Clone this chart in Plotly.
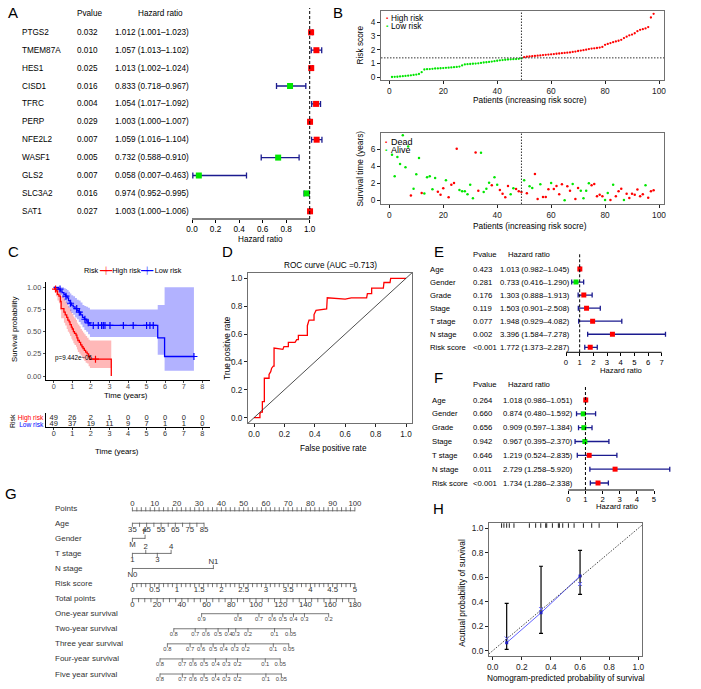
import plotly.graph_objects as go

# ------------------------------------------------------------------ DATA
# Panel A: univariate Cox of genes
genes = ["PTGS2", "TMEM87A", "HES1", "CISD1", "TFRC", "PERP", "NFE2L2", "WASF1", "GLS2", "SLC3A2", "SAT1"]
gene_p = ["0.032", "0.010", "0.025", "0.016", "0.004", "0.029", "0.007", "0.005", "0.007", "0.016", "0.027"]
gene_hr = [1.012, 1.057, 1.013, 0.833, 1.054, 1.003, 1.059, 0.732, 0.058, 0.974, 1.003]
gene_lo = [1.001, 1.013, 1.002, 0.718, 1.017, 1.000, 1.016, 0.588, 0.007, 0.952, 1.000]
gene_hi = [1.023, 1.102, 1.024, 0.967, 1.092, 1.007, 1.104, 0.910, 0.463, 0.995, 1.006]
a_ticks = [0.0, 0.2, 0.4, 0.6, 0.8, 1.0]

# Panel B: risk score distribution and survival status
risk_score = [0.00, 0.01, 0.02, 0.04, 0.06, 0.08, 0.10, 0.12, 0.15, 0.18,
              0.22, 0.35, 0.55, 0.57, 0.58, 0.60, 0.62, 0.63, 0.64, 0.65,
              0.67, 0.68, 0.70, 0.72, 0.74, 0.76, 0.85, 0.92, 0.94, 0.95,
              0.97, 0.98, 1.00, 1.03, 1.06, 1.08, 1.10, 1.13, 1.16, 1.19,
              1.22, 1.24, 1.26, 1.28, 1.29, 1.30, 1.31, 1.33, 1.36,
              1.45, 1.48, 1.50, 1.52, 1.54, 1.56, 1.58, 1.60, 1.62, 1.64,
              1.66, 1.68, 1.70, 1.72, 1.74, 1.76, 1.78, 1.80, 1.83, 1.86,
              1.90, 1.93, 1.96, 2.00, 2.04, 2.08, 2.10, 2.12, 2.15, 2.20,
              2.35, 2.42, 2.48, 2.55, 2.60, 2.65, 2.72, 2.85, 2.95, 3.05,
              3.10, 3.20, 3.35, 3.45, 3.50, 3.55, 3.65, 4.35, 4.62]
risk_cutoff = 1.40
n_low = 49
surv_time = [5.34, 2.80, 5.06, 4.25, 7.60, 3.86, 6.30, 0.55, 1.36, 3.05,
             4.95, 0.86, 0.80, 2.70, 2.80, 1.30, 2.60, 1.00, 0.66, 1.40,
             2.34, 0.35, 1.83, 2.03, 6.04, 1.20, 1.05, 1.05, 0.70, 1.83,
             0.23, 5.60, 1.13, 5.57, 0.97, 1.36, 2.06, 1.75, 2.69, 1.83,
             1.20, 0.78, 0.35, 1.68, 0.70, 1.40, 1.32, 1.05, 0.97, 2.34,
             0.82, 1.64, 1.44, 3.08, 0.16, 1.87, 0.39, 0.39, 1.29, 2.03,
             1.32, 1.68, 0.70, 1.87, 0.00, 1.64, 1.13, 1.91, 0.16, 1.44,
             1.13, 0.23, 1.13, 1.99, 1.75, 1.91, 0.47, 0.66, 0.47, 0.04,
             0.86, 0.04, 1.83, 0.47, 1.05, 1.36, 0.04, 0.78, 0.27, 0.78,
             0.66, 1.25, 0.47, 0.70, 1.75, 0.31, 1.05, 1.17]
surv_dead = [0, 0, 0, 0, 0, 0, 0, 1, 0, 0,
             0, 1, 0, 0, 0, 0, 0, 1, 1, 1,
             0, 1, 1, 1, 1, 0, 0, 0, 0, 0,
             0, 1, 1, 0, 0, 0, 0, 1, 0, 0,
             1, 1, 1, 1, 0, 0, 1, 1, 1, 0,
             1, 0, 0, 1, 1, 0, 1, 1, 1, 0,
             1, 1, 1, 1, 0, 1, 1, 0, 1, 1,
             0, 0, 0, 0, 1, 1, 1, 1, 1, 0,
             0, 1, 0, 1, 1, 1, 0, 1, 1, 1,
             1, 1, 1, 1, 0, 1, 1, 1]

# Panel C: Kaplan-Meier
km_hi_t = [0.05, 0.12, 0.20, 0.28, 0.36, 0.40, 0.55, 0.62, 0.70, 0.76, 0.83, 0.88, 0.95, 1.00, 1.06,
           1.12, 1.20, 1.25, 1.30, 1.38, 1.45, 1.52, 1.58, 1.65, 1.72, 1.80, 1.88, 1.95, 3.10]
km_hi_s = [0.98, 0.96, 0.92, 0.90, 0.84, 0.76, 0.72, 0.69, 0.66, 0.63, 0.61, 0.58, 0.55, 0.53, 0.50,
           0.48, 0.46, 0.43, 0.40, 0.38, 0.35, 0.33, 0.31, 0.29, 0.27, 0.25, 0.22, 0.19, 0.00]
km_hi_l = [0.94, 0.90, 0.85, 0.82, 0.74, 0.65, 0.60, 0.57, 0.53, 0.50, 0.48, 0.45, 0.42, 0.40, 0.37,
           0.35, 0.33, 0.30, 0.27, 0.25, 0.23, 0.21, 0.19, 0.17, 0.15, 0.14, 0.11, 0.09, 0.09]
km_hi_u = [1.00, 1.00, 1.00, 0.99, 0.96, 0.90, 0.87, 0.84, 0.82, 0.79, 0.77, 0.75, 0.72, 0.70, 0.67,
           0.65, 0.63, 0.60, 0.58, 0.56, 0.53, 0.51, 0.49, 0.47, 0.45, 0.43, 0.41, 0.40, 0.40]
km_lo_t = [0.25, 0.35, 0.45, 0.55, 0.65, 0.72, 0.80, 0.88, 0.95, 1.05, 1.15, 1.25, 1.35, 1.45, 1.55,
           1.65, 1.75, 1.85, 1.95, 5.60, 5.97]
km_lo_s = [0.98, 0.96, 0.94, 0.92, 0.90, 0.88, 0.85, 0.82, 0.80, 0.78, 0.76, 0.74, 0.72, 0.69, 0.66,
           0.64, 0.62, 0.60, 0.57, 0.43, 0.22]
km_lo_l = [0.94, 0.91, 0.88, 0.85, 0.82, 0.80, 0.77, 0.73, 0.71, 0.69, 0.66, 0.64, 0.61, 0.58, 0.55,
           0.52, 0.50, 0.47, 0.44, 0.24, 0.06]
km_lo_u = [1.00, 1.00, 1.00, 0.99, 0.98, 0.97, 0.95, 0.93, 0.91, 0.90, 0.88, 0.86, 0.85, 0.83, 0.80,
           0.79, 0.78, 0.77, 0.75, 0.80, 1.00]
km_lo_end = 7.55
cens_hi = [0.10, 2.25]
cens_lo = [0.34, 0.66, 0.91, 1.24, 1.38, 1.68, 1.86, 2.13, 2.40, 2.58, 2.67, 2.76, 3.03, 3.75,
           4.28, 5.00, 5.18, 5.36, 7.55]
table_times = [0, 1, 2, 3, 4, 5, 6, 7, 8]
at_risk_hi = [49, 26, 2, 1, 0, 0, 0, 0, 0]
at_risk_lo = [49, 37, 19, 11, 9, 7, 1, 1, 0]
km_p = "p=9.442e−06"

# Panel D: ROC
roc_fpr = [0.000, 0.013, 0.039, 0.039, 0.047, 0.055, 0.055, 0.068, 0.068, 0.099, 0.099, 0.110, 0.116,
           0.127, 0.132, 0.132, 0.190, 0.197, 0.226, 0.226, 0.270, 0.281, 0.292, 0.292, 0.351, 0.351,
           0.362, 0.395, 0.395, 0.408, 0.470, 0.478, 0.482, 0.600, 0.640, 0.741, 0.746, 0.774, 0.774,
           0.851, 0.855, 0.895, 0.899, 1.000]
roc_tpr = [0.000, 0.000, 0.000, 0.030, 0.040, 0.040, 0.115, 0.115, 0.283, 0.283, 0.310, 0.330, 0.355,
           0.370, 0.370, 0.500, 0.490, 0.510, 0.510, 0.540, 0.540, 0.560, 0.560, 0.590, 0.590, 0.660,
           0.700, 0.700, 0.740, 0.770, 0.780, 0.780, 0.860, 0.850, 0.860, 0.860, 0.890, 0.890, 0.930,
           0.930, 0.970, 0.970, 1.000, 1.000]
roc_auc = 0.713
unit_ticks = [0.0, 0.2, 0.4, 0.6, 0.8, 1.0]

# Panels E/F: uni- and multivariate Cox of clinical factors
clin = ["Age", "Gender", "Grade", "Stage", "T stage", "N stage", "Risk score"]
e_p = ["0.423", "0.281", "0.176", "0.119", "0.077", "0.002", "<0.001"]
e_hr = [1.013, 0.733, 1.303, 1.503, 1.948, 3.396, 1.772]
e_lo = [0.982, 0.416, 0.888, 0.901, 0.929, 1.584, 1.373]
e_hi = [1.045, 1.290, 1.913, 2.508, 4.082, 7.278, 2.287]
e_ticks = [0, 1, 2, 3, 4, 5, 6, 7]
f_p = ["0.264", "0.660", "0.656", "0.942", "0.646", "0.011", "<0.001"]
f_hr = [1.018, 0.874, 0.909, 0.967, 1.219, 2.729, 1.734]
f_lo = [0.986, 0.480, 0.597, 0.395, 0.524, 1.258, 1.286]
f_hi = [1.051, 1.592, 1.384, 2.370, 2.835, 5.920, 2.338]
f_ticks = [0, 1, 2, 3, 4, 5]

# Panel G: nomogram (positions on the 0-100 Points scale)
nomo_rows = ["Points", "Age", "Gender", "T stage", "N stage", "Risk score", "Total points",
             "One-year survival", "Two-year survival", "Three year survival",
             "Four-year survival", "Five year survival"]
points_lab = [0, 10, 20, 30, 40, 50, 60, 70, 80, 90, 100]
age_lab = [35, 45, 55, 65, 75, 85]
age_pts = [0.0, 6.4, 12.9, 19.3, 25.8, 32.2]
gender_lab = ["M", "F"]
gender_pts = [0.0, 5.7]
tstage_lab = ["1", "2", "3", "4"]
tstage_pts = [0.0, 6.0, 11.2, 17.4]
nstage_lab = ["N0", "N1"]
nstage_pts = [0.0, 36.4]
riskscore_lab = [0, 0.5, 1, 1.5, 2, 2.5, 3, 3.5, 4, 4.5, 5]
total_lab = [0, 20, 40, 60, 80, 100, 120, 140, 160, 180]
surv1_lab = [0.9, 0.8, 0.7, 0.6, 0.5, 0.4, 0.3, 0.2]
surv1_tot = [56.0, 85.4, 102.4, 113.1, 121.7, 130.3, 139.2, 158.8]
survN_lab = [0.8, 0.7, 0.6, 0.5, 0.4, 0.3, 0.2, 0.1, 0.05]
surv2_tot = [33.5, 50.8, 59.5, 69.3, 77.7, 83.6, 93.5, 115.0, 128.0]
surv3_tot = [28.3, 46.7, 55.6, 65.3, 73.9, 82.8, 91.6, 114.0, 126.5]
surv4_tot = [22.3, 40.3, 49.0, 58.0, 67.3, 76.0, 85.0, 107.5, 119.6]
surv5_tot = [22.3, 40.4, 49.0, 58.0, 67.3, 76.0, 85.0, 108.0, 120.5]

# Panel H: calibration
cal_pred = [0.096, 0.332, 0.600]
cal_obs = [0.065, 0.310, 0.610]
cal_lo = [0.011, 0.142, 0.460]
cal_hi = [0.387, 0.690, 0.820]
cal_corr = [0.100, 0.340, 0.545]
cal_rug = [0.061, 0.077, 0.096, 0.114, 0.146, 0.252, 0.295, 0.330, 0.364, 0.371, 0.410, 0.451,
           0.458, 0.481, 0.520, 0.559, 0.623, 0.680, 0.731, 0.857]

# ------------------------------------------------------------------ HELPERS
W, H = 701, 689
FONT = "Liberation Sans, Arial, Helvetica, sans-serif"
RED, GREEN, NAVY, BLUE = "#FF0000", "#00E600", "#1B1B8F", "#0000FF"
GRAY_BOX = "#707070"

fig = go.Figure()
ann, shp, lay = [], [], {}
_k = [0]


def sc(p0, v0, p1, v1):
    return lambda p: v0 + (p - p0) * (v1 - v0) / (p1 - p0)


def axes(xdom, ydom, fx, fy, xkw=None, ykw=None):
    _k[0] += 1
    s = "" if _k[0] == 1 else str(_k[0])
    base = dict(showgrid=False, zeroline=False, showline=False, ticks="", showticklabels=False,
                fixedrange=True, automargin=False)
    xa = dict(base, domain=[xdom[0] / W, xdom[1] / W], range=[fx(xdom[0]), fx(xdom[1])], anchor="y" + s)
    ya = dict(base, domain=[1 - ydom[1] / H, 1 - ydom[0] / H], range=[fy(ydom[1]), fy(ydom[0])],
              anchor="x" + s)
    xa.update(xkw or {})
    ya.update(ykw or {})
    lay["xaxis" + s] = xa
    lay["yaxis" + s] = ya
    return "x" + s, "y" + s


def txt(x, y, s, size, xanchor="left", color="black", angle=0, yref="paper", yanchor="middle"):
    ann.append(dict(xref="paper", x=x / W, yref=yref, y=(1 - y / H) if yref == "paper" else y,
                    text=s, showarrow=False, xanchor=xanchor, yanchor=yanchor, textangle=angle,
                    borderpad=0, borderwidth=0, font=dict(size=size, color=color, family=FONT)))


def tickaxis(vals, size, text=None, color="#222", ticklen=3, line=False, mirror=False, linecolor=GRAY_BOX,
             standoff=0):
    d = dict(tickmode="array", tickvals=vals, ticks="outside", ticklen=ticklen, tickwidth=1,
             tickcolor=color, showticklabels=True, tickfont=dict(size=size, family=FONT, color=color),
             ticklabelstandoff=standoff)
    if text is not None:
        d["ticktext"] = text
    if line:
        d.update(showline=True, mirror=mirror, linecolor=linecolor, linewidth=1)
    return d


def forest(names, pv, hr, lo, hi, ticks, ticktext, xmap, xdom, rowmap, ydom, dash_top,
           cols, hdr_y, hdr_cols, fs, msize, cap, title_xy):
    fx = sc(*xmap)
    n = len(names)
    fy = sc(rowmap[0], 0, rowmap[1], n - 1)
    xid, yid = axes(xdom, ydom, fx, fy, xkw=tickaxis(ticks, fs, ticktext, color="black", standoff=-1))
    rows = list(range(n))
    fig.add_trace(go.Scatter(
        x=hr, y=rows, xaxis=xid, yaxis=yid, mode="markers",
        marker=dict(symbol="square", size=msize, color=[RED if h > 1 else GREEN for h in hr],
                    line=dict(width=0)),
        error_x=dict(type="data", symmetric=False, array=[b - h for b, h in zip(hi, hr)],
                     arrayminus=[h - a for a, h in zip(lo, hr)], color=NAVY, thickness=1.3, width=cap)))
    ybot = 1 - ydom[1] / H
    shp.append(dict(type="line", xref=xid, yref="paper", x0=1, x1=1, y0=ybot, y1=1 - dash_top / H,
                    line=dict(color="black", width=1, dash="3px,2px")))
    shp.append(dict(type="line", xref=xid, yref="paper", x0=ticks[0], x1=ticks[-1], y0=ybot, y1=ybot,
                    line=dict(color="black", width=1)))
    for i in rows:
        txt(cols[0], i, names[i], fs, yref=yid)
        txt(cols[1], i, pv[i], fs, yref=yid)
        txt(cols[2], i, f"{hr[i]:.3f} ({lo[i]:.3f}–{hi[i]:.3f})", fs, yref=yid)
    txt(hdr_cols[0], hdr_y, "Pvalue", fs)
    txt(hdr_cols[1], hdr_y, "Hazard ratio", fs)
    txt(title_xy[0], title_xy[1], "Hazard ratio", fs, xanchor="center")


# ------------------------------------------------------------------ PANEL A
forest(genes, gene_p, gene_hr, gene_lo, gene_hi, a_ticks, [f"{t:.1f}" for t in a_ticks],
       (192, 0, 309.7, 1), (186, 326), (32.3, 211.3), (5, 219), 8,
       (22, 77, 115), 14, (77, 138), 8.2, 6, 3, (260, 240))

# ------------------------------------------------------------------ PANEL B (top)
FS_B = 8.3
fxB = sc(389.3, 0, 659, 100)
patients = list(range(1, len(risk_score) + 1))
xb1, yb1 = axes((381, 664), (11, 80), fxB, sc(77, 0, 22.3, 4),
                xkw=tickaxis([0, 20, 40, 60, 80, 100], FS_B, line=True, mirror=True),
                ykw=tickaxis([0, 1, 2, 3, 4], FS_B, line=True, mirror=True))
fig.add_trace(go.Scatter(x=patients[:n_low], y=risk_score[:n_low], xaxis=xb1, yaxis=yb1, mode="markers",
                         marker=dict(size=2.3, color=GREEN, line=dict(width=0))))
fig.add_trace(go.Scatter(x=patients[n_low:], y=risk_score[n_low:], xaxis=xb1, yaxis=yb1, mode="markers",
                         marker=dict(size=2.3, color=RED, line=dict(width=0))))
shp.append(dict(type="line", xref=xb1 + " domain", yref=yb1, x0=0, x1=1, y0=risk_cutoff, y1=risk_cutoff,
                line=dict(color="#333", width=1, dash="1.5px,1.5px")))
shp.append(dict(type="line", xref=xb1, yref=yb1 + " domain", x0=n_low, x1=n_low, y0=0, y1=1,
                line=dict(color="#333", width=1, dash="1.5px,1.5px")))
txt(387, 18.3, f'<span style="color:{RED}">▪</span>', 6, xanchor="center")
txt(391.5, 18.3, "High risk", FS_B)
txt(387, 25.7, f'<span style="color:{GREEN}">▪</span>', 6, xanchor="center")
txt(391.5, 25.7, "Low risk", FS_B)
txt(360, 45.5, "Risk score", FS_B, xanchor="center", angle=-90)
txt(530, 100, "Patients (increasing risk socre)", FS_B, xanchor="center")

# ------------------------------------------------------------------ PANEL B (bottom)
xb2, yb2 = axes((381, 664), (133, 204), fxB, sc(200.3, 0, 149, 6),
                xkw=tickaxis([0, 20, 40, 60, 80, 100], FS_B, line=True, mirror=True),
                ykw=tickaxis([0, 2, 4, 6], FS_B, line=True, mirror=True))
fig.add_trace(go.Scatter(x=patients, y=surv_time, xaxis=xb2, yaxis=yb2, mode="markers",
                         marker=dict(size=2.5, color=[RED if d else GREEN for d in surv_dead],
                                     line=dict(width=0))))
shp.append(dict(type="line", xref=xb2, yref=yb2 + " domain", x0=n_low, x1=n_low, y0=0, y1=1,
                line=dict(color="#333", width=1, dash="1.5px,1.5px")))
txt(385.5, 142.3, f'<span style="color:{RED}">▪</span>', 6, xanchor="center")
txt(391, 142.3, "Dead", 9)
txt(385.5, 149.7, f'<span style="color:{GREEN}">▪</span>', 6, xanchor="center")
txt(391, 149.7, "Alive", 9)
txt(360, 168.5, "Survival time (years)", FS_B, xanchor="center", angle=-90)
txt(530, 226, "Patients (increasing risk socre)", FS_B, xanchor="center")

# ------------------------------------------------------------------ PANEL C (KM)
fxC = sc(53.7, 0, 202.3, 8)
xc, yc = axes((45.7, 210), (282, 380.4), fxC, sc(376, 0, 287.3, 1),
              xkw=tickaxis(table_times, 7.3, color="#4D4D4D", ticklen=2, line=True, linecolor="black",
                           standoff=-3),
              ykw=tickaxis([0, 0.25, 0.5, 0.75, 1.0], 7.3, ["0.00", "0.25", "0.50", "0.75", "1.00"],
                           color="#4D4D4D", ticklen=2, line=True, linecolor="black"))


def s_at(t, times, surv):
    v = 1.0
    for ti, si in zip(times, surv):
        if ti <= t:
            v = si
    return v


# ribbons
rib_hi_x = [0] + km_hi_t
fig.add_trace(go.Scatter(x=rib_hi_x, y=[1] + km_hi_l, xaxis=xc, yaxis=yc, mode="lines",
                         line=dict(width=0, shape="hv")))
fig.add_trace(go.Scatter(x=rib_hi_x, y=[1] + km_hi_u, xaxis=xc, yaxis=yc, mode="lines",
                         line=dict(width=0, shape="hv"), fill="tonexty",
                         fillcolor="rgba(255,0,0,0.28)"))
rib_lo_x = [0] + km_lo_t + [km_lo_end]
fig.add_trace(go.Scatter(x=rib_lo_x, y=[1] + km_lo_l + [km_lo_l[-1]], xaxis=xc, yaxis=yc, mode="lines",
                         line=dict(width=0, shape="hv")))
fig.add_trace(go.Scatter(x=rib_lo_x, y=[1] + km_lo_u + [km_lo_u[-1]], xaxis=xc, yaxis=yc, mode="lines",
                         line=dict(width=0, shape="hv"), fill="tonexty",
                         fillcolor="rgba(0,0,255,0.3)"))
# curves
fig.add_trace(go.Scatter(x=[0] + km_hi_t, y=[1] + km_hi_s, xaxis=xc, yaxis=yc, mode="lines",
                         line=dict(color=RED, width=1.3, shape="hv")))
fig.add_trace(go.Scatter(x=[0] + km_lo_t + [km_lo_end], y=[1] + km_lo_s + [km_lo_s[-1]], xaxis=xc,
                         yaxis=yc, mode="lines", line=dict(color=BLUE, width=1.3, shape="hv")))
fig.add_trace(go.Scatter(x=cens_hi, y=[s_at(t, km_hi_t, km_hi_s) for t in cens_hi], xaxis=xc, yaxis=yc,
                         mode="markers", marker=dict(symbol="cross-thin", size=5,
                                                     line=dict(color=RED, width=1.2))))
fig.add_trace(go.Scatter(x=cens_lo, y=[s_at(t, km_lo_t, km_lo_s) for t in cens_lo], xaxis=xc, yaxis=yc,
                         mode="markers", marker=dict(symbol="cross-thin", size=5,
                                                     line=dict(color=BLUE, width=1.2))))
txt(55, 358.3, km_p, 6.3)
txt(14, 329, "Survival probability", 7.8, xanchor="center", angle=-90)
txt(126, 395.7, "Time (years)", 7.8, xanchor="center")
txt(84, 270, f'Risk <span style="color:{RED}">━┿━</span>High risk'
              f'<span style="color:{BLUE}">━┿━</span> Low risk', 7.3)

# risk table
xt, yt = axes((45.7, 210), (413, 427.3), fxC, sc(424.3, 0, 417.7, 1),
              xkw=tickaxis(table_times, 7.3, color="#333", ticklen=2, line=True, linecolor="black",
                           standoff=-3),
              ykw=dict(tickmode="array", tickvals=[0, 1],
                       ticktext=[f'<span style="color:{BLUE}">Low risk</span>',
                                 f'<span style="color:{RED}">High risk</span>'],
                       showticklabels=True, ticks="", tickfont=dict(size=6.6, family=FONT),
                       showline=True, linecolor="black", linewidth=1))
fig.add_trace(go.Scatter(x=table_times + table_times, y=[1] * len(table_times) + [0] * len(table_times),
                         xaxis=xt, yaxis=yt, mode="text",
                         text=[str(v) for v in at_risk_hi + at_risk_lo],
                         textfont=dict(size=7.5, family=FONT, color="#222")))
txt(12, 421, "Risk", 7, xanchor="center", angle=-90)
txt(117, 451.7, "Time (years)", 7.8, xanchor="center")

# ------------------------------------------------------------------ PANEL D (ROC)
FS_D = 8.2
xd, yd = axes((248, 412), (273, 423.3), sc(254, 0, 406, 1), sc(417.7, 0, 278.3, 1),
              xkw=tickaxis(unit_ticks, FS_D, [f"{t:.1f}" for t in unit_ticks], ticklen=3, line=True,
                           mirror=True),
              ykw=tickaxis(unit_ticks, FS_D, [f"{t:.1f}" for t in unit_ticks], ticklen=3, line=True,
                           mirror=True))
xr = lay["xaxis" + xd[1:]]["range"]
shp.append(dict(type="line", xref=xd, yref=yd, x0=xr[0], y0=xr[0], x1=xr[1], y1=xr[1],
                line=dict(color="#222", width=0.8)))
fig.add_trace(go.Scatter(x=roc_fpr, y=roc_tpr, xaxis=xd, yaxis=yd, mode="lines",
                         line=dict(color=RED, width=1.3)))
txt(330, 265, f"ROC curve (AUC ={roc_auc})", FS_D, xanchor="center")
txt(226.7, 348, "True positive rate", FS_D, xanchor="center", angle=-90)
txt(333, 449, "False positive rate", FS_D, xanchor="center")

# ------------------------------------------------------------------ PANELS E, F
forest(clin, e_p, e_hr, e_lo, e_hi, e_ticks, [str(t) for t in e_ticks],
       (566, 0, 661.7, 7), (540, 668), (269, 347.3), (248, 352.3), 253,
       (430, 473, 500), 254, (473, 508), 7.7, 5, 2.5, (620.5, 370.3))
forest(clin, f_p, f_hr, f_lo, f_hi, f_ticks, [str(t) for t in f_ticks],
       (568.3, 0, 654, 5), (540, 675), (400, 483), (384, 490), 385,
       (431.5, 473.3, 503.3), 384.3, (473.3, 508.3), 7.7, 5, 2.5, (616.7, 506.5))

# ------------------------------------------------------------------ PANEL G (nomogram)
xg, yg = axes((40, 375), (495, 687), sc(132.4, 0, 354.9, 100), sc(508.2, 0, 674, 11),
              xkw=dict(visible=False), ykw=dict(visible=False))
NCOL = "#555"


def nomo_scale(row, pts, labels, above, fs, minor=None, line_off=0.0):
    y0 = row + line_off
    fig.add_trace(go.Scatter(x=[min(pts), max(pts)], y=[y0, y0], xaxis=xg, yaxis=yg, mode="lines",
                             line=dict(color=NCOL, width=0.8)))
    tick_all = list(pts) + (minor or [])
    fig.add_trace(go.Scatter(
        x=tick_all, y=[y0 + (-0.1 if a else 0.1) for a in (list(above) + [above[0]] * len(minor or []))],
        xaxis=xg, yaxis=yg, mode="markers",
        marker=dict(symbol="line-ns", size=3, line=dict(width=0.8, color=NCOL))))
    fig.add_trace(go.Scatter(x=pts, y=[y0 + (-0.42 if a else 0.45) for a in above], xaxis=xg, yaxis=yg,
                             mode="text", text=[str(l) for l in labels],
                             textfont=dict(size=fs, family=FONT, color="#333")))


FS_N = 7.8
FS_S = 5.8
nomo_scale(0, points_lab, points_lab, [True] * len(points_lab), FS_N,
           minor=[p for p in range(points_lab[0], points_lab[-1] + 1, 2) if p % 10], line_off=0.17)
nomo_scale(1, age_pts, age_lab, [False] * len(age_lab), FS_N,
           minor=[(a + 5 - age_lab[0]) / (age_lab[-1] - age_lab[0]) * age_pts[-1] for a in age_lab[:-1]])
nomo_scale(2, gender_pts, gender_lab, [False, True], FS_N)
nomo_scale(3, tstage_pts, tstage_lab, [False, True, False, True], FS_N)
nomo_scale(4, nstage_pts, nstage_lab, [False, True], FS_N)
rs_pts = [v / riskscore_lab[-1] * 100 for v in riskscore_lab]
nomo_scale(5, rs_pts, riskscore_lab, [False] * len(rs_pts), FS_N,
           minor=[k / 10 / riskscore_lab[-1] * 100 for k in range(0, 51) if k % 5])
tot_scale = 100 / total_lab[-1]
nomo_scale(6, [v * tot_scale for v in total_lab], total_lab, [False] * len(total_lab), FS_N,
           minor=[v * tot_scale for v in range(0, 181, 5) if v % 20])
for r, tot, lab in [(7, surv1_tot, surv1_lab), (8, surv2_tot, survN_lab), (9, surv3_tot, survN_lab),
                    (10, surv4_tot, survN_lab), (11, surv5_tot, survN_lab)]:
    fig.add_trace(go.Scatter(x=[min(tot) * tot_scale, max(tot) * tot_scale], y=[r, r], xaxis=xg, yaxis=yg,
                             mode="lines", line=dict(color=NCOL, width=0.8)))
    fig.add_trace(go.Scatter(x=[t * tot_scale for t in tot], y=[r + 0.1] * len(tot), xaxis=xg, yaxis=yg,
                             mode="markers",
                             marker=dict(symbol="line-ns", size=3, line=dict(width=0.8, color=NCOL))))
    fig.add_trace(go.Scatter(x=[t * tot_scale for t in tot], y=[r + 0.36] * len(tot), xaxis=xg, yaxis=yg,
                             mode="text", text=[str(l) for l in lab],
                             textfont=dict(size=FS_S, family=FONT, color="#444")))
for i, name in enumerate(nomo_rows):
    txt(55, i, name, 8, yref=yg, color="#333")

# ------------------------------------------------------------------ PANEL H (calibration)
FS_H = 8.3
xh, yh = axes((489, 642.3), (523.3, 655.7), sc(492.7, 0, 638.3, 1), sc(650.7, 0, 528.3, 1),
              xkw=tickaxis(unit_ticks, FS_H, [f"{t:.1f}" for t in unit_ticks], ticklen=3, line=True,
                           mirror=True),
              ykw=tickaxis(unit_ticks, FS_H, [f"{t:.1f}" for t in unit_ticks], ticklen=3, line=True,
                           mirror=True))
xrh = lay["xaxis" + xh[1:]]["range"]
shp.append(dict(type="line", xref=xh, yref=yh, x0=xrh[0], y0=xrh[0], x1=xrh[1], y1=xrh[1],
                line=dict(color="#444", width=1, dash="1.5px,1.5px")))
fig.add_trace(go.Scatter(x=cal_pred, y=cal_obs, xaxis=xh, yaxis=yh, mode="markers",
                         marker=dict(size=1, color="black"),
                         error_y=dict(type="data", symmetric=False,
                                      array=[h - o for h, o in zip(cal_hi, cal_obs)],
                                      arrayminus=[o - l for l, o in zip(cal_lo, cal_obs)],
                                      color="black", thickness=1.2, width=2)))
fig.add_trace(go.Scatter(x=cal_pred, y=cal_obs, xaxis=xh, yaxis=yh, mode="lines+markers",
                         line=dict(color="#3A3AFF", width=0.8),
                         marker=dict(symbol="square", size=3, color="#2020C0")))
fig.add_trace(go.Scatter(x=cal_pred, y=cal_corr, xaxis=xh, yaxis=yh, mode="markers",
                         marker=dict(symbol="x-thin", size=4, line=dict(color="#6A6AFF", width=1))))
yrh = lay["yaxis" + yh[1:]]["range"]
fig.add_trace(go.Scatter(x=cal_rug, y=[yrh[1] - 0.014] * len(cal_rug), xaxis=xh, yaxis=yh, mode="markers",
                         marker=dict(symbol="line-ns", size=4, line=dict(color="#222", width=1))))
txt(566, 678.3, "Nomogram-predicted probability of survival", FS_H, xanchor="center")
txt(461.7, 593, "Acutual probability of survival", FS_H, xanchor="center", angle=-90)

# ------------------------------------------------------------------ PANEL LETTERS
for letter, x, y in [("A", 8, 12), ("B", 333, 12), ("C", 8, 251), ("D", 222, 252), ("E", 434, 252),
                     ("F", 434, 378), ("G", 5, 493), ("H", 433, 508)]:
    txt(x, y, letter, 15)

lay.update(template="none", width=W, height=H,
           margin=dict(l=0, r=0, t=0, b=0, pad=0, autoexpand=False), paper_bgcolor="white",
           plot_bgcolor="rgba(0,0,0,0)", showlegend=False, annotations=ann, shapes=shp,
           font=dict(family=FONT, size=8, color="black"))
fig.update_layout(**lay)
fig.update_traces(hoverinfo="skip", selector=dict(type="scatter"))
fig.write_html("out.html", config={"displayModeBar": False},
               post_script="document.body.style.margin='0';document.body.style.overflow='hidden';")
